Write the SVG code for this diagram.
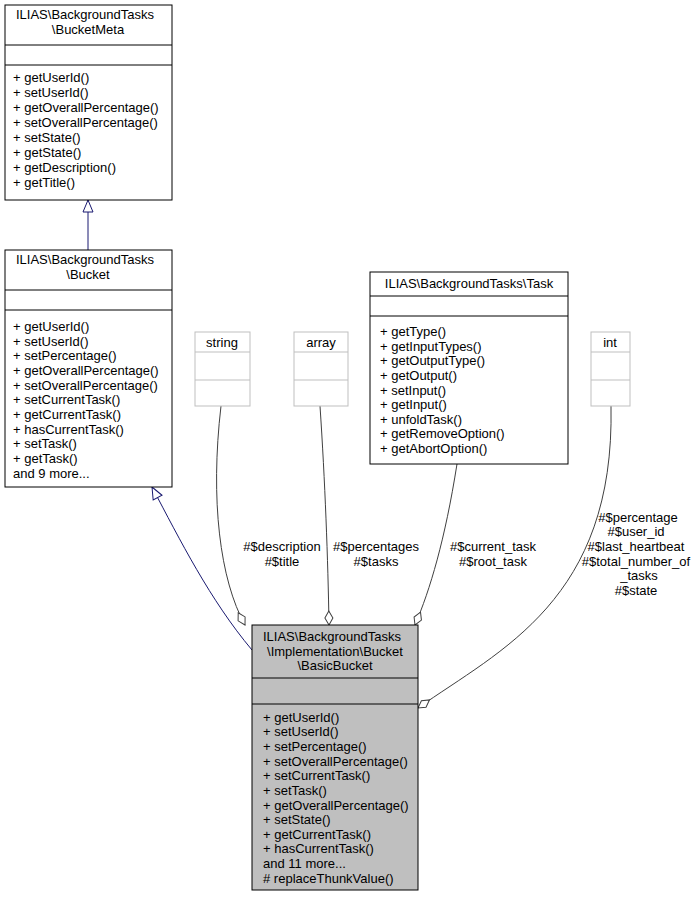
<svg xmlns="http://www.w3.org/2000/svg" width="695" height="897" viewBox="0 0 695 897">
<style>
text{font-family:"Liberation Sans",Arial,sans-serif;font-size:13px;fill:#000}
.b{fill:#fff;stroke:#000;stroke-width:1}
.g{fill:#fff;stroke:#bfbfbf;stroke-width:1}
.m{text-anchor:middle}
.e{fill:none;stroke:#404040;stroke-width:1}
.n{fill:none;stroke:#191970;stroke-width:1}
</style>
<defs>
<marker id="tri" markerWidth="14" markerHeight="14" refX="13" refY="6" orient="auto" markerUnits="userSpaceOnUse"><path d="M1,1 L13,6 L1,11 Z" fill="#fff" stroke="#191970"/></marker>
<marker id="dia" markerWidth="16" markerHeight="10" refX="15" refY="5" orient="auto" markerUnits="userSpaceOnUse"><path d="M1,5 L8,1 L15,5 L8,9 Z" fill="#fff" stroke="#404040"/></marker>
</defs>
<g id="edges">
<path class="n" d="M88,250 L88,200" marker-end="url(#tri)"/>
<path class="n" d="M252,650 C210,600 180,540 152,487" marker-end="url(#tri)"/>
<path class="e" d="M221,406 C210,500 220,580 245,625" marker-end="url(#dia)"/>
<path class="e" d="M320,406 C325,480 328,560 329,625" marker-end="url(#dia)"/>
<path class="e" d="M457,464 C445,540 430,590 415,625" marker-end="url(#dia)"/>
<path class="e" d="M611,406 C615,600 500,650 418,708" marker-end="url(#dia)"/>
<text class="m" x="282" y="551">#$description</text><text class="m" x="282" y="566">#$title</text>
<text class="m" x="376" y="551">#$percentages</text><text class="m" x="376" y="566">#$tasks</text>
<text class="m" x="493" y="551">#$current_task</text><text class="m" x="493" y="566">#$root_task</text>
<text class="m" x="638" y="522">#$percentage</text><text class="m" x="636" y="536">#$user_id</text><text class="m" x="636" y="551">#$last_heartbeat</text><text class="m" x="636" y="566">#$total_number_of</text><text class="m" x="639" y="580">_tasks</text><text class="m" x="636" y="595">#$state</text>
</g>
<g id="BucketMeta">
<rect class="b" x="5" y="5" width="167" height="195"/>
<line x1="5" y1="45" x2="172" y2="45" stroke="#000"/><line x1="5" y1="65" x2="172" y2="65" stroke="#000"/>
<text x="16" y="19">ILIAS\BackgroundTasks</text><text class="m" x="88" y="34">\BucketMeta</text>
<text x="13" y="82">+ getUserId()</text><text x="13" y="97">+ setUserId()</text><text x="13" y="112">+ getOverallPercentage()</text><text x="13" y="127">+ setOverallPercentage()</text><text x="13" y="142">+ setState()</text><text x="13" y="157">+ getState()</text><text x="13" y="172">+ getDescription()</text><text x="13" y="187">+ getTitle()</text>
</g>
<g id="Bucket">
<rect class="b" x="5" y="250" width="167" height="237"/>
<line x1="5" y1="290" x2="172" y2="290" stroke="#000"/><line x1="5" y1="310" x2="172" y2="310" stroke="#000"/>
<text x="16" y="264">ILIAS\BackgroundTasks</text><text class="m" x="88" y="279">\Bucket</text>
<text x="13" y="331">+ getUserId()</text><text x="13" y="346">+ setUserId()</text><text x="13" y="360">+ setPercentage()</text><text x="13" y="375">+ getOverallPercentage()</text><text x="13" y="390">+ setOverallPercentage()</text><text x="13" y="404">+ setCurrentTask()</text><text x="13" y="419">+ getCurrentTask()</text><text x="13" y="434">+ hasCurrentTask()</text><text x="13" y="448">+ setTask()</text><text x="13" y="463">+ getTask()</text><text x="13" y="478">and 9 more...</text>
</g>
<g id="string"><rect class="g" x="195" y="332" width="55" height="74"/><line x1="195" y1="352" x2="250" y2="352" stroke="#bfbfbf"/><line x1="195" y1="380" x2="250" y2="380" stroke="#bfbfbf"/><text class="m" x="222" y="347">string</text></g>
<g id="array"><rect class="g" x="294" y="332" width="54" height="74"/><line x1="294" y1="352" x2="348" y2="352" stroke="#bfbfbf"/><line x1="294" y1="380" x2="348" y2="380" stroke="#bfbfbf"/><text class="m" x="321" y="347">array</text></g>
<g id="int"><rect class="g" x="591" y="332" width="39" height="74"/><line x1="591" y1="352" x2="630" y2="352" stroke="#bfbfbf"/><line x1="591" y1="380" x2="630" y2="380" stroke="#bfbfbf"/><text class="m" x="610" y="347">int</text></g>
<g id="Task">
<rect class="b" x="370" y="272" width="198" height="192"/>
<line x1="370" y1="296" x2="568" y2="296" stroke="#000"/><line x1="370" y1="316" x2="568" y2="316" stroke="#000"/>
<text class="m" x="469" y="288">ILIAS\BackgroundTasks\Task</text>
<text x="380" y="336">+ getType()</text><text x="380" y="351">+ getInputTypes()</text><text x="380" y="365">+ getOutputType()</text><text x="380" y="380">+ getOutput()</text><text x="380" y="395">+ setInput()</text><text x="380" y="409">+ getInput()</text><text x="380" y="424">+ unfoldTask()</text><text x="380" y="438">+ getRemoveOption()</text><text x="380" y="453">+ getAbortOption()</text>
</g>
<g id="BasicBucket">
<rect x="252" y="625" width="166" height="265" fill="#bfbfbf" stroke="#000"/>
<line x1="252" y1="678" x2="418" y2="678" stroke="#000"/><line x1="252" y1="704" x2="418" y2="704" stroke="#000"/>
<text x="263" y="641">ILIAS\BackgroundTasks</text><text class="m" x="335" y="656">\Implementation\Bucket</text><text class="m" x="335" y="670">\BasicBucket</text>
<text x="263" y="722">+ getUserId()</text><text x="263" y="736">+ setUserId()</text><text x="263" y="751">+ setPercentage()</text><text x="263" y="766">+ setOverallPercentage()</text><text x="263" y="780">+ setCurrentTask()</text><text x="263" y="795">+ setTask()</text><text x="263" y="810">+ getOverallPercentage()</text><text x="263" y="824">+ setState()</text><text x="263" y="839">+ getCurrentTask()</text><text x="263" y="853">+ hasCurrentTask()</text><text x="263" y="868">and 11 more...</text><text x="263" y="883"># replaceThunkValue()</text>
</g>
</svg>
